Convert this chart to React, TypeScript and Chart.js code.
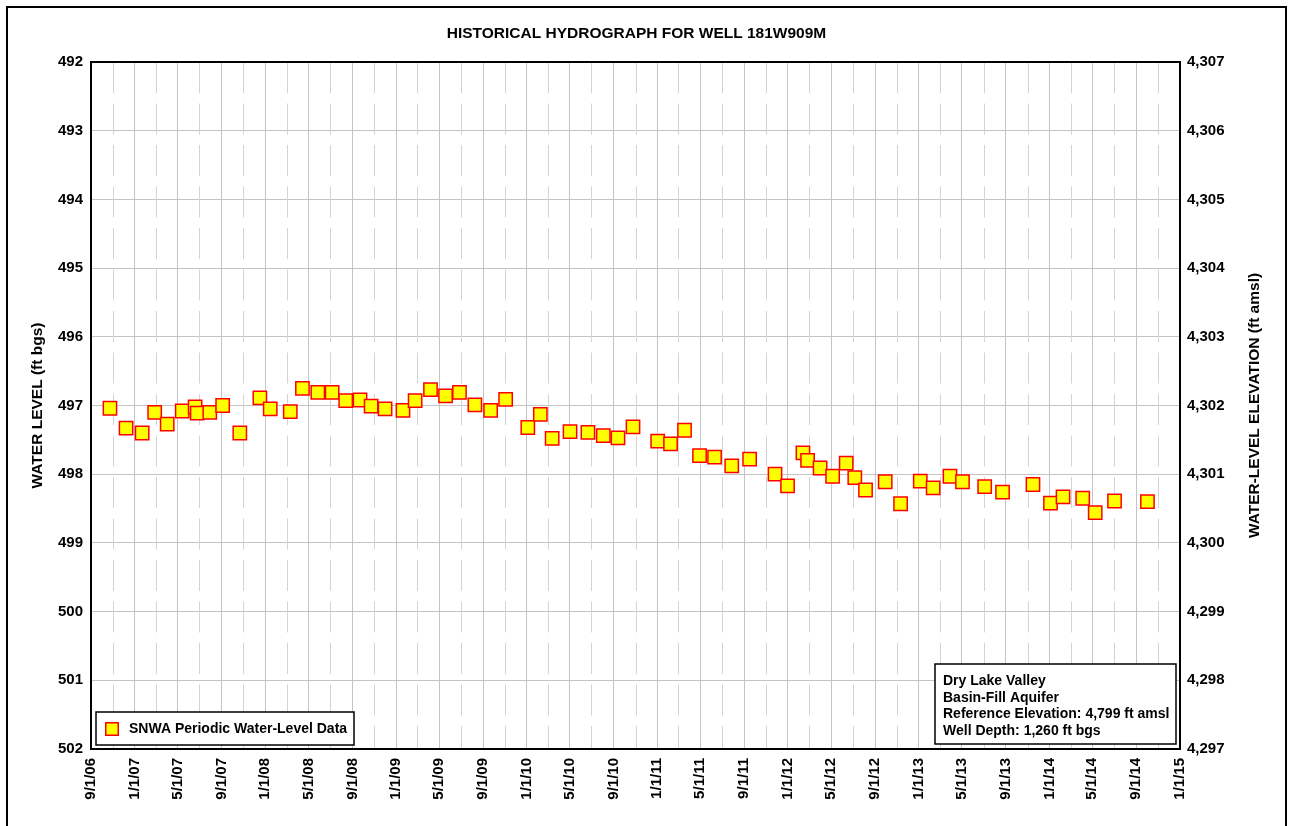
import { useEffect, useRef } from 'react';
import { Chart, registerables } from 'chart.js';

Chart.register(...registerables);

const TITLE = 'HISTORICAL HYDROGRAPH FOR WELL 181W909M';
const LEFT_TITLE = 'WATER LEVEL (ft bgs)';
const RIGHT_TITLE = 'WATER-LEVEL ELEVATION (ft amsl)';
const LEGEND_LABEL = 'SNWA Periodic Water-Level Data';
const INFO_LINES = [
  'Dry Lake Valley',
  'Basin-Fill Aquifer',
  'Reference Elevation: 4,799 ft amsl',
  'Well Depth: 1,260 ft bgs',
];
const REFERENCE_ELEVATION = 4799;

const sampleDates = [
  '2006-10-24', '2006-12-08', '2007-01-22', '2007-02-26', '2007-04-02', '2007-05-14',
  '2007-06-19', '2007-06-25', '2007-07-30', '2007-09-04', '2007-10-22', '2007-12-17',
  '2008-01-15', '2008-03-11', '2008-04-14', '2008-05-27', '2008-07-06', '2008-08-13',
  '2008-09-22', '2008-10-23', '2008-12-01', '2009-01-20', '2009-02-23', '2009-04-07',
  '2009-05-19', '2009-06-27', '2009-08-09', '2009-09-22', '2009-11-03', '2010-01-04',
  '2010-02-08', '2010-03-13', '2010-05-02', '2010-06-21', '2010-08-03', '2010-09-13',
  '2010-10-25', '2011-01-02', '2011-02-07', '2011-03-18', '2011-04-29', '2011-06-10',
  '2011-07-28', '2011-09-16', '2011-11-26', '2011-12-31', '2012-02-12', '2012-02-25',
  '2012-03-31', '2012-05-05', '2012-06-12', '2012-07-06', '2012-08-05', '2012-09-29',
  '2012-11-11', '2013-01-05', '2013-02-10', '2013-03-29', '2013-05-03', '2013-07-04',
  '2013-08-23', '2013-11-16', '2014-01-04', '2014-02-08', '2014-04-04', '2014-05-09',
  '2014-07-02', '2014-10-02',
];

const waterLevels = [
  497.04, 497.33, 497.40, 497.10, 497.27, 497.08,
  497.02, 497.11, 497.10, 497.00, 497.40, 496.89,
  497.05, 497.09, 496.75, 496.81, 496.81, 496.93,
  496.92, 497.01, 497.05, 497.07, 496.93, 496.77,
  496.86, 496.81, 496.99, 497.07, 496.91, 497.32,
  497.13, 497.48, 497.38, 497.39, 497.44, 497.47,
  497.31, 497.52, 497.56, 497.36, 497.73, 497.75,
  497.88, 497.78, 498.00, 498.17, 497.69, 497.80,
  497.91, 498.03, 497.84, 498.05, 498.23, 498.11,
  498.43, 498.10, 498.20, 498.03, 498.11, 498.18,
  498.26, 498.15, 498.42, 498.33, 498.35, 498.56,
  498.39, 498.40,
];

const xLabelDates = [
  '2006-09-01', '2007-01-01', '2007-05-01', '2007-09-01', '2008-01-01', '2008-05-01',
  '2008-09-01', '2009-01-01', '2009-05-01', '2009-09-01', '2010-01-01', '2010-05-01',
  '2010-09-01', '2011-01-01', '2011-05-01', '2011-09-01', '2012-01-01', '2012-05-01',
  '2012-09-01', '2013-01-01', '2013-05-01', '2013-09-01', '2014-01-01', '2014-05-01',
  '2014-09-01', '2015-01-01',
];

const xMinorDates = [
  '2006-11-01', '2007-03-01', '2007-07-01', '2007-11-01', '2008-03-01', '2008-07-01',
  '2008-11-01', '2009-03-01', '2009-07-01', '2009-11-01', '2010-03-01', '2010-07-01',
  '2010-11-01', '2011-03-01', '2011-07-01', '2011-11-01', '2012-03-01', '2012-07-01',
  '2012-11-01', '2013-03-01', '2013-07-01', '2013-11-01', '2014-03-01', '2014-07-01',
  '2014-11-01',
];

const LEFT_MIN = 492;
const LEFT_MAX = 502;

const FONT = 'Arial, "Liberation Sans", Helvetica, sans-serif';

function toDay(s: string): number {
  const [y, m, d] = s.split('-').map(Number);
  return Date.UTC(y, m - 1, d) / 86400000;
}

function fmtDate(s: string): string {
  const [y, m, d] = s.split('-').map(Number);
  return `${m}/${d}/${String(y).slice(2)}`;
}

const labelByDay: Record<number, string> = {};
xLabelDates.forEach((s) => {
  labelByDay[toDay(s)] = fmtDate(s);
});

function drawMarker(ctx: CanvasRenderingContext2D, cx: number, cy: number, side: number) {
  ctx.fillStyle = '#FFFF00';
  ctx.strokeStyle = '#FF0000';
  ctx.lineWidth = 1.5;
  ctx.fillRect(cx - side / 2, cy - side / 2, side, side);
  ctx.strokeRect(cx - side / 2, cy - side / 2, side, side);
}

const decorPlugin = {
  id: 'decor',
  beforeDatasetsDraw(chart: any) {
    const { ctx, chartArea: a, scales } = chart;
    const x = scales.x;
    ctx.save();
    ctx.strokeStyle = '#D4D4D4';
    ctx.lineWidth = 1;
    ctx.setLineDash([31, 10.5]);
    for (const d of xMinorDates) {
      const px = Math.round(x.getPixelForValue(toDay(d))) + 0.5;
      ctx.beginPath();
      ctx.moveTo(px, a.top);
      ctx.lineTo(px, a.bottom);
      ctx.stroke();
    }
    ctx.setLineDash([]);
    ctx.strokeStyle = '#000000';
    ctx.lineWidth = 2;
    ctx.strokeRect(a.left, a.top, a.right - a.left, a.bottom - a.top);
    ctx.restore();
  },
  afterDatasetsDraw(chart: any) {
    const { ctx } = chart;
    ctx.save();
    // legend box
    ctx.fillStyle = '#FFFFFF';
    ctx.fillRect(96, 712, 258, 33);
    ctx.strokeStyle = '#000000';
    ctx.lineWidth = 1.5;
    ctx.strokeRect(96, 712, 258, 33);
    drawMarker(ctx, 112, 729, 12.5);
    ctx.fillStyle = '#000000';
    ctx.font = `bold 14px ${FONT}`;
    ctx.textAlign = 'left';
    ctx.textBaseline = 'middle';
    ctx.fillText(LEGEND_LABEL, 129, 729.5);

    // info box
    ctx.fillStyle = '#FFFFFF';
    ctx.fillRect(935, 664, 241, 80);
    ctx.strokeStyle = '#000000';
    ctx.lineWidth = 1.5;
    ctx.strokeRect(935, 664, 241, 80);
    ctx.fillStyle = '#000000';
    ctx.font = `bold 14px ${FONT}`;
    INFO_LINES.forEach((line, i) => {
      ctx.fillText(line, 943, 681.5 + i * 16.4);
    });
    ctx.restore();
  },
  afterDraw(chart: any) {
    const { ctx, chartArea: a } = chart;
    ctx.save();
    // outer frame
    ctx.strokeStyle = '#000000';
    ctx.lineWidth = 2;
    ctx.strokeRect(7, 7, 1279, 900);
    // title
    ctx.fillStyle = '#000000';
    ctx.font = `bold 15.5px ${FONT}`;
    ctx.textAlign = 'center';
    ctx.textBaseline = 'middle';
    ctx.fillText(TITLE, (a.left + a.right) / 2 + 1, 34);
    // axis titles
    const cy = (a.top + a.bottom) / 2;
    ctx.font = `bold 15.5px ${FONT}`;
    ctx.translate(38, cy);
    ctx.rotate(-Math.PI / 2);
    ctx.fillText(LEFT_TITLE, 0, 0);
    ctx.setTransform(1, 0, 0, 1, 0, 0);
    ctx.translate(1255, cy);
    ctx.rotate(-Math.PI / 2);
    ctx.fillText(RIGHT_TITLE, 0, 0);
    ctx.restore();
  },
};

export default function App() {
  const ref = useRef<HTMLCanvasElement | null>(null);

  useEffect(() => {
    if (!ref.current) return;
    const points = sampleDates.map((d, i) => ({ x: toDay(d), y: waterLevels[i] }));
    const tickFont = { family: FONT, size: 15, weight: 'bold' as const };

    const chart = new Chart(ref.current, {
      type: 'scatter',
      data: {
        datasets: [
          {
            label: LEGEND_LABEL,
            data: points,
            yAxisID: 'y',
            backgroundColor: '#FFFF00',
            borderColor: '#FF0000',
            borderWidth: 1.5,
            pointStyle: 'rect',
            pointRadius: 9.4,
            pointHoverRadius: 9.4,
            showLine: false,
          },
        ],
      },
      options: {
        animation: false,
        responsive: true,
        maintainAspectRatio: false,
        events: [],
        layout: { padding: { top: 62, left: 0, right: 0, bottom: 0 } },
        plugins: {
          legend: { display: false },
          title: { display: false },
          tooltip: { enabled: false },
        },
        scales: {
          x: {
            type: 'linear',
            position: 'bottom',
            min: toDay(xLabelDates[0]),
            max: toDay(xLabelDates[xLabelDates.length - 1]),
            afterBuildTicks: (scale: any) => {
              scale.ticks = xLabelDates.map((d) => ({ value: toDay(d) }));
            },
            afterFit: (scale: any) => {
              scale.height = 77;
            },
            grid: { color: '#C4C4C4', lineWidth: 1, drawTicks: false },
            border: { display: false },
            ticks: {
              autoSkip: false,
              maxRotation: 90,
              minRotation: 90,
              padding: 9,
              color: '#000000',
              font: tickFont,
              callback: (v: any) => labelByDay[Number(v)] ?? '',
            },
          },
          y: {
            type: 'linear',
            position: 'left',
            reverse: true,
            min: LEFT_MIN,
            max: LEFT_MAX,
            afterFit: (scale: any) => {
              scale.width = 91;
            },
            grid: { color: '#C4C4C4', lineWidth: 1, drawTicks: false },
            border: { display: false },
            ticks: {
              stepSize: 1,
              padding: 8,
              color: '#000000',
              font: tickFont,
            },
          },
          y2: {
            type: 'linear',
            position: 'right',
            display: true,
            min: REFERENCE_ELEVATION - LEFT_MAX,
            max: REFERENCE_ELEVATION - LEFT_MIN,
            afterFit: (scale: any) => {
              scale.width = 113;
            },
            grid: { drawOnChartArea: false, drawTicks: false },
            border: { display: false },
            ticks: {
              stepSize: 1,
              padding: 7,
              color: '#000000',
              font: tickFont,
              callback: (v: any) => Number(v).toLocaleString('en-US'),
            },
          },
        },
      },
      plugins: [decorPlugin],
    });

    return () => chart.destroy();
  }, []);

  return (
    <div style={{ position: 'absolute', left: 0, top: 0, width: 1293, height: 826 }}>
      <canvas ref={ref} />
    </div>
  );
}
